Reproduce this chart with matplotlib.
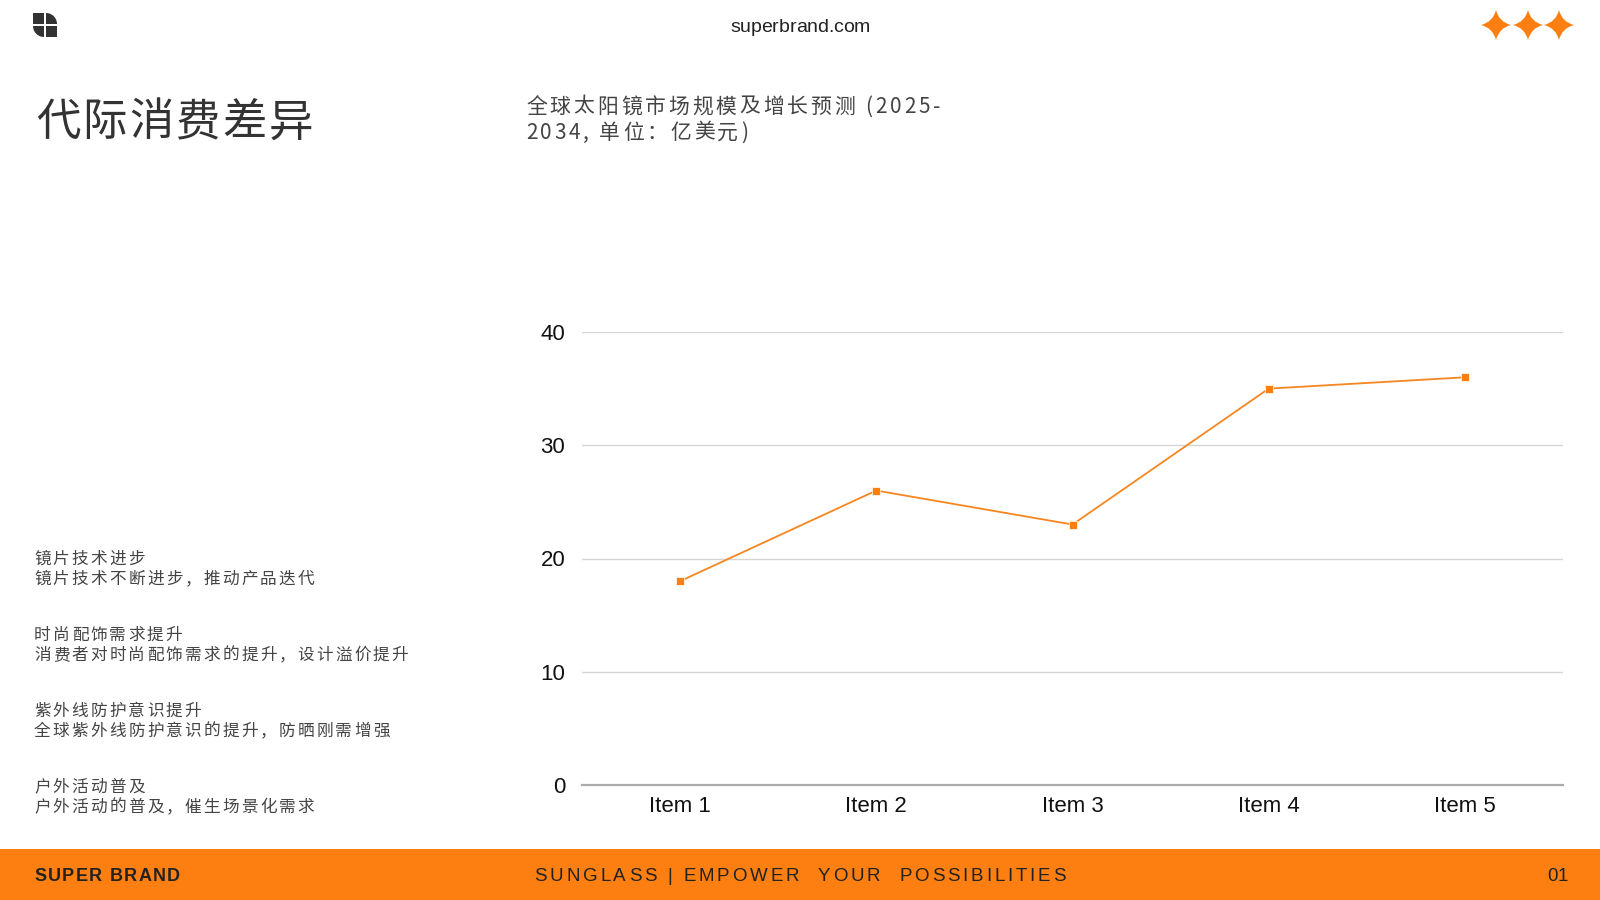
import numpy as np
import matplotlib.pyplot as plt
from matplotlib.patches import Rectangle, Wedge, PathPatch
from matplotlib.path import Path
from matplotlib.font_manager import FontProperties

CJK = ['Noto Sans CJK SC', 'DejaVu Sans']
LATIN = ['Liberation Sans', 'DejaVu Sans']
plt.rcParams['font.family'] = CJK

# data
items = ["Item 1", "Item 2", "Item 3", "Item 4", "Item 5"]
values = [18, 26, 23, 35, 36]
yticks = [0, 10, 20, 30, 40]

page_title = "代际消费差异"
chart_title = ["全球太阳镜市场规模及增长预测 (2025-", "2034, 单位：亿美元)"]
notes = [
    ("镜片技术进步", "镜片技术不断进步，推动产品迭代"),
    ("时尚配饰需求提升", "消费者对时尚配饰需求的提升，设计溢价提升"),
    ("紫外线防护意识提升", "全球紫外线防护意识的提升，防晒刚需增强"),
    ("户外活动普及", "户外活动的普及，催生场景化需求"),
]
site = "superbrand.com"
brand = "SUPER BRAND"
slogan = "SUNGLASS | EMPOWER  YOUR  POSSIBILITIES"
page_no = "01"

ORANGE = "#FD7F11"
LINE = "#F7861E"
DARK = "#333333"
TEXT = "#444444"

fig = plt.figure(figsize=(16, 9), dpi=100)
renderer = fig.canvas.get_renderer()

# page layer in pixel coords (y down)
bg = fig.add_axes([0, 0, 1, 1])
bg.set_xlim(0, 1600)
bg.set_ylim(900, 0)
bg.axis("off")


def tracked(x, yc, s, size, family=CJK, width=None, track=0.0, ha="left",
            weight="normal", color=TEXT):
    # letter-spaced text, one glyph at a time
    fp = FontProperties(family=family, size=size, weight=weight)

    def w(t):
        return renderer.get_text_width_height_descent(t, fp, ismath=False)[0] if t else 0.0

    n = len(s)
    natural = w(s)
    if width is not None and n > 1:
        track = (width - natural) / (n - 1)
    total = natural + track * (n - 1)
    if ha == "center":
        x -= total / 2
    elif ha == "right":
        x -= total
    base = yc + 0.37 * size * 100 / 72
    for k, ch in enumerate(s):
        if ch == " ":
            continue
        left = w(s[:k + 1]) - w(ch) + k * track
        bg.text(x + left, base, ch, ha="left", va="baseline", fontproperties=fp,
                color=color)


# logo
c = 11
g = 2
x0, y0 = 33, 13
bg.add_patch(Rectangle((x0, y0), c, c, color=DARK, lw=0))
bg.add_patch(Wedge((x0 + c + g, y0 + c), c, 270, 360, color=DARK, lw=0))
bg.add_patch(Wedge((x0 + c, y0 + c + g), c, 90, 180, color=DARK, lw=0))
bg.add_patch(Rectangle((x0 + c + g, y0 + c + g), c, c, color=DARK, lw=0))


def star(cx, cy, r, k=0.2):
    verts = [(cx, cy - r), (cx + k * r, cy - k * r), (cx + r, cy),
             (cx + k * r, cy + k * r), (cx, cy + r), (cx - k * r, cy + k * r),
             (cx - r, cy), (cx - k * r, cy - k * r), (cx, cy - r)]
    codes = [Path.MOVETO] + [Path.CURVE3] * 8
    return PathPatch(Path(verts, codes), color=ORANGE, lw=0)


for sx in [1496, 1528, 1559]:
    bg.add_patch(star(sx, 25, 15))

tracked(800, 25, site, 14, family=LATIN, width=140, ha="center", color="#222222")

tracked(36, 119, page_title, 32, width=277, color=DARK)

tracked(526, 105, chart_title[0], 15, width=414)
tracked(526, 131, chart_title[1], 15, width=222)

for i, (head, body) in enumerate(notes):
    ty = 558 + i * 76
    tracked(34, ty, head, 12, track=2.2)
    tracked(34, ty + 20, body, 12, track=2.2)

# footer
bg.add_patch(Rectangle((0, 849), 1600, 51, color=ORANGE, lw=0))
tracked(34, 874, brand, 13, family=LATIN, width=146, weight="bold", color="#222222")
tracked(800, 874, slogan, 13.5, family=LATIN, width=531, ha="center", color="#222222")
tracked(1568, 874, page_no, 13.5, family=LATIN, ha="right", color="#222222")

# chart
ax = fig.add_axes([582 / 1600, 1 - 785 / 900, (1563 - 582) / 1600, (785 - 332) / 900])
x = np.arange(len(items))
ax.plot(x, values, color=LINE, lw=1.3, marker="s", markersize=6,
        markerfacecolor=ORANGE, markeredgecolor="white", markeredgewidth=0.5)
ax.set_xlim(-0.5, len(items) - 0.5)
ax.set_ylim(0, 40)
ax.set_xticks(x)
ax.set_xticklabels(items)
ax.set_yticks(yticks)
ax.grid(axis="y", color="#d6d6d6", lw=1)
ax.set_axisbelow(True)
for s in ["top", "right", "left"]:
    ax.spines[s].set_visible(False)
ax.spines["bottom"].set_color("#aaaaaa")
ax.spines["bottom"].set_linewidth(1.6)
ax.tick_params(length=0, labelsize=16, colors="#111111")
ax.tick_params(axis="y", pad=12)
ax.tick_params(axis="x", pad=8)
for lab in ax.get_xticklabels() + ax.get_yticklabels():
    lab.set_family(LATIN)

fig.savefig("out.png", dpi=100)
